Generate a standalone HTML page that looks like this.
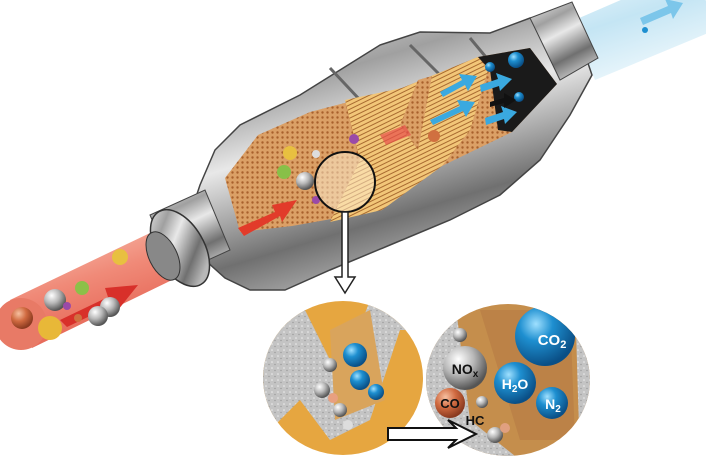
<!DOCTYPE html>
<html><head><style>body{margin:0;background:#fff}svg{display:block}</style></head><body>
<svg width="706" height="472" viewBox="0 0 706 472" xmlns="http://www.w3.org/2000/svg" font-family="Liberation Sans, sans-serif">
<defs>
<linearGradient id="metal" x1="0" y1="0" x2=".45" y2="1">
<stop offset="0" stop-color="#f0f0f0"/><stop offset=".3" stop-color="#a0a0a0"/><stop offset=".5" stop-color="#e8e8e8"/><stop offset=".8" stop-color="#707070"/><stop offset="1" stop-color="#b8b8b8"/></linearGradient>
<linearGradient id="red" x1="0" y1="0" x2=".45" y2="1"><stop offset="0" stop-color="#f9c8b8"/><stop offset=".5" stop-color="#f08a78"/><stop offset="1" stop-color="#e46050"/></linearGradient>
<linearGradient id="blue" x1="0" y1="0" x2=".45" y2="1"><stop offset="0" stop-color="#eef8fc"/><stop offset=".5" stop-color="#c4e5f4"/><stop offset="1" stop-color="#eef8fc"/></linearGradient>
<pattern id="grid" width="5" height="5" patternUnits="userSpaceOnUse"><rect width="5" height="5" fill="#dba066"/><circle cx="2.5" cy="2.5" r="1.2" fill="#a8602c"/></pattern>
<pattern id="lines" width="6" height="4" patternUnits="userSpaceOnUse" patternTransform="rotate(-26)"><rect width="6" height="4" fill="#f2c678"/><rect y="3" width="6" height="1" fill="#a86a30"/></pattern>
<radialGradient id="bb" cx=".35" cy=".3" r=".7"><stop offset="0" stop-color="#9fe0ff"/><stop offset=".4" stop-color="#1e8fd0"/><stop offset="1" stop-color="#0a4f86"/></radialGradient>
<radialGradient id="gb" cx=".35" cy=".3" r=".7"><stop offset="0" stop-color="#fff"/><stop offset=".5" stop-color="#b8b8b8"/><stop offset="1" stop-color="#555"/></radialGradient>
<radialGradient id="ob" cx=".35" cy=".3" r=".7"><stop offset="0" stop-color="#f6c0a0"/><stop offset=".5" stop-color="#d06a40"/><stop offset="1" stop-color="#8a3a20"/></radialGradient>
<pattern id="dots" width="6" height="6" patternUnits="userSpaceOnUse"><rect width="6" height="6" fill="#c4c4c4"/><circle cx="2" cy="2" r=".8" fill="#eee"/><circle cx="5" cy="4.5" r=".7" fill="#999"/></pattern>
</defs>
<!-- outlet pipe -->
<path d="M570,22 L690,-30 L720,28 L595,80Z" fill="url(#blue)"/>
<circle cx="645" cy="30" r="3" fill="#1e8fd0"/><circle cx="675" cy="8" r="3" fill="#1e8fd0"/>
<path d="M640,18 l28,-12 l-3,-7 l18,4 l-10,16 l-2,-6 l-28,12z" fill="#7cc6ea"/>
<!-- inlet pipe -->
<path d="M10,300 L150,233 L172,280 L32,348Z" fill="url(#red)"/>
<circle cx="21" cy="324" r="26" fill="#e87a66"/>
<!-- body -->
<path d="M185,230 L200,185 L215,150 L240,125 L300,95 L340,70 L380,45 L420,32 L490,33 L530,18 L575,25 L592,75 L570,115 L540,160 L500,195 L450,220 L390,245 L330,270 L285,290 L250,290 L225,278 L205,260Z" fill="url(#metal)" stroke="#444" stroke-width="1.5"/>
<path d="M330,68 L360,100 M410,45 L440,75 M470,38 L490,62" stroke="#666" stroke-width="3"/>
<!-- outlet collar -->
<path d="M530,18 L572,2 L598,58 L560,80Z" fill="url(#metal)" stroke="#444"/>
<!-- flange & inlet collar -->
<path d="M150,215 L205,190 L230,250 L175,275Z" fill="url(#metal)" stroke="#444"/>
<ellipse cx="180" cy="248" rx="24" ry="42" transform="rotate(-30 180 248)" fill="url(#metal)" stroke="#333" stroke-width="1.5"/>
<ellipse cx="163" cy="256" rx="14" ry="26" transform="rotate(-26 163 256)" fill="#888" stroke="#333"/>
<!-- cutaway -->
<path d="M225,178 L258,135 L310,112 L402,88 L478,57 L530,48 L557,84 L512,132 L442,166 L382,210 L292,226 L240,232Z" fill="url(#grid)"/>
<path d="M345,100 L402,88 L478,57 L488,70 L470,130 L442,166 L382,210 L330,222 L360,160Z" fill="url(#lines)"/>
<path d="M400,125 L418,80 L432,76 L418,150Z" fill="url(#grid)"/>
<path d="M478,57 L530,48 L557,84 L512,132 L498,130 L490,70Z" fill="#1a1a1a"/>
<circle cx="290" cy="153" r="7" fill="#e8c040"/><circle cx="284" cy="172" r="7" fill="#88c048"/><circle cx="305" cy="181" r="9" fill="url(#gb)"/><circle cx="354" cy="139" r="5" fill="#9a4aa8"/><circle cx="434" cy="136" r="6" fill="#d07040"/><circle cx="316" cy="200" r="4" fill="#9a4aa8"/><circle cx="316" cy="154" r="4" fill="#ddd"/>
<circle cx="490" cy="67" r="5" fill="url(#bb)"/><circle cx="516" cy="60" r="8" fill="url(#bb)"/><circle cx="519" cy="97" r="5" fill="url(#bb)"/>
<path d="M440,92 l22,-12 l-3,-6 l18,2 l-9,15 l-3,-6 l-22,12z" fill="#3aa9e0"/><path d="M430,120 l30,-14 l-3,-6 l18,2 l-9,15 l-3,-6 l-30,14z" fill="#3aa9e0"/>
<path d="M480,85 l18,-6 l-2,-6 l16,6 l-12,12 l-1,-5 l-18,6z" fill="#3aa9e0"/><path d="M485,118 l18,-6 l-2,-6 l16,6 l-12,12 l-1,-5 l-18,6z" fill="#3aa9e0"/>
<path d="M490,102 l14,-4 l0,-5 l12,7 l-12,8 l0,-5 l-14,4z" fill="#111"/>
<path d="M380,135 l25,-10 l6,10 l-25,10z" fill="#e8504a" opacity=".7"/>
<path d="M238,228 L275,212 L272,205 L297,200 L282,222 L280,216 L244,236Z" fill="#e23b2a"/>
<path d="M60,320 L108,297 L105,288 L138,285 L118,310 L115,304 L67,327Z" fill="#d8302a"/>
<circle cx="22" cy="318" r="11" fill="url(#ob)"/><circle cx="50" cy="328" r="12" fill="#e8b838"/><circle cx="110" cy="307" r="10" fill="url(#gb)"/><circle cx="55" cy="300" r="11" fill="url(#gb)"/><circle cx="82" cy="288" r="7" fill="#8cc048"/><circle cx="98" cy="316" r="10" fill="url(#gb)"/><circle cx="120" cy="257" r="8" fill="#e8c040"/><circle cx="67" cy="306" r="4" fill="#9a4aa8"/><circle cx="78" cy="318" r="4" fill="#d07040"/>
<circle cx="345" cy="182" r="30" fill="rgba(255,240,210,.5)" stroke="#111" stroke-width="2"/>
<path d="M342,212 L348,212 L348,277 L355,277 L345,293 L335,277 L342,277Z" fill="#fff" stroke="#222" stroke-width="1.5"/>
<clipPath id="c1"><ellipse cx="343" cy="378" rx="80" ry="77"/></clipPath>
<g clip-path="url(#c1)">
<rect x="260" y="298" width="170" height="160" fill="#e6a640"/>
<path d="M260,300 L300,300 L340,380 L370,300 L430,300 L430,330 L400,330 L370,420 L330,440 L300,400 L260,440Z" fill="url(#dots)"/>
<path d="M330,330 L370,310 L385,400 L335,420Z" fill="#d9a45c"/>
<circle cx="355" cy="355" r="12" fill="url(#bb)"/><circle cx="360" cy="380" r="10" fill="url(#bb)"/><circle cx="376" cy="392" r="8" fill="url(#bb)"/>
<circle cx="330" cy="365" r="7" fill="url(#gb)"/><circle cx="322" cy="390" r="8" fill="url(#gb)"/><circle cx="340" cy="410" r="7" fill="url(#gb)"/><circle cx="333" cy="398" r="5" fill="#e8a080"/><circle cx="348" cy="425" r="5" fill="#ddd"/>
</g>
<clipPath id="c2"><ellipse cx="508" cy="380" rx="82" ry="76"/></clipPath>
<g clip-path="url(#c2)">
<rect x="420" y="300" width="180" height="160" fill="#c58e4c"/>
<path d="M420,300 L455,300 L470,420 L520,460 L420,460Z" fill="url(#dots)"/>
<path d="M575,300 L600,300 L600,460 L580,460Z" fill="url(#dots)"/>
<path d="M480,310 L570,310 L575,440 L520,440Z" fill="#b98046" opacity=".8"/>
<circle cx="545" cy="336" r="30" fill="url(#bb)"/><circle cx="515" cy="383" r="21" fill="url(#bb)"/><circle cx="552" cy="403" r="16" fill="url(#bb)"/>
<circle cx="465" cy="368" r="22" fill="url(#gb)"/><circle cx="450" cy="403" r="15" fill="url(#ob)"/>
<circle cx="460" cy="335" r="7" fill="url(#gb)"/><circle cx="482" cy="402" r="6" fill="url(#gb)"/><circle cx="495" cy="435" r="8" fill="url(#gb)"/><circle cx="505" cy="428" r="5" fill="#e0a080"/>
</g>
<g font-weight="bold" text-anchor="middle">
<text x="552" y="345" font-size="15" fill="#fff">CO<tspan font-size="11" dy="3">2</tspan></text>
<text x="465" y="374" font-size="14" fill="#111">NO<tspan font-size="10" dy="3">x</tspan></text>
<text x="515" y="389" font-size="14" fill="#fff">H<tspan font-size="10" dy="3">2</tspan><tspan dy="-3">O</tspan></text>
<text x="553" y="409" font-size="14" fill="#fff">N<tspan font-size="10" dy="3">2</tspan></text>
<text x="450" y="408" font-size="13" fill="#111">CO</text>
<text x="475" y="425" font-size="13" fill="#111">HC</text>
</g>
<path d="M388,428 L456,428 L448,420 L476,434 L448,448 L456,440 L388,440Z" fill="#fff" stroke="#111" stroke-width="2"/>
</svg>
</body></html>
